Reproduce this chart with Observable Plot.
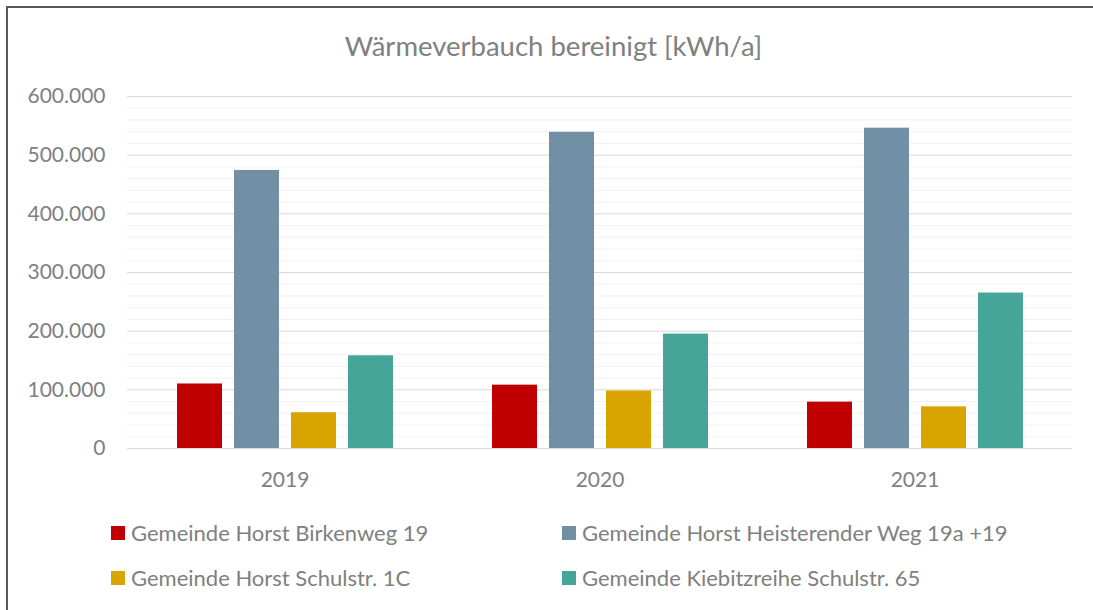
<!DOCTYPE html>
<html>
<head>
<meta charset="utf-8">
<script src="https://cdn.jsdelivr.net/npm/d3@7"></script>
<script src="https://cdn.jsdelivr.net/npm/@observablehq/plot@0.6"></script>
<style>
  html, body { margin: 0; padding: 0; background: #fff; }
  #wrap { position: relative; width: 1093px; height: 610px; overflow: hidden; background: #fff; font-family: Lato, "Open Sans", sans-serif; color: #808080; }
  #frame { position: absolute; left: 6px; top: 6px; width: 1200px; height: 700px; border-top: 2px solid #595959; border-left: 2px solid #595959; }
  #title { position: absolute; left: 7px; top: 30px; width: 1093px; text-align: center; font-size: 27.5px; line-height: 32px; color: #808080; }
  #chart { position: absolute; left: 0; top: 80px; }
  #legend { position: absolute; left: 111px; top: 510px; display: grid; grid-template-columns: 451px auto; grid-auto-rows: 45px; }
  .item { display: flex; align-items: center; font-size: 22px; line-height: 45px; white-space: nowrap; }
  .sw { width: 14px; height: 14px; margin-right: 6px; flex: none; }
</style>
</head>
<body>
<div id="wrap">
  <div id="frame"></div>
  <div id="title">Wärmeverbauch bereinigt [kWh/a]</div>
  <div id="chart"></div>
  <div id="legend"></div>
</div>
<script>
const years = ["2019", "2020", "2021"];
const series = [
  "Gemeinde Horst Birkenweg 19",
  "Gemeinde Horst Heisterender Weg 19a +19",
  "Gemeinde Horst Schulstr. 1C",
  "Gemeinde Kiebitzreihe Schulstr. 65"
];
const colors = ["#C00000", "#7190A6", "#D9A300", "#44A598"];
const birkenweg = [110000, 108000, 79000];
const heisterender = [474000, 539000, 546000];
const schulstr1C = [61000, 98000, 71000];
const kiebitzreihe = [158000, 195000, 265000];
const yTicks = [0, 100000, 200000, 300000, 400000, 500000, 600000];
const yMinorTicks = [20000, 40000, 60000, 80000, 120000, 140000, 160000, 180000, 220000, 240000, 260000, 280000, 320000, 340000, 360000, 380000, 420000, 440000, 460000, 480000, 520000, 540000, 560000, 580000];

const valuesBySeries = [birkenweg, heisterender, schulstr1C, kiebitzreihe];
const data = [];
years.forEach((yr, i) => {
  series.forEach((s, j) => data.push({year: yr, series: s, value: valuesBySeries[j][i]}));
});

const de = d3.formatLocale({decimal: ",", thousands: ".", grouping: [3], currency: ["", " €"]});
const fmt = de.format(",");

const chart = Plot.plot({
  width: 1093,
  height: 420,
  marginLeft: 126,
  marginRight: 20,
  marginTop: 16,
  marginBottom: 52,
  style: {fontFamily: "Lato, 'Open Sans', sans-serif", fontSize: "21px", color: "#808080", background: "transparent"},
  fx: {domain: years, padding: 0, label: null, axis: "bottom", tickSize: 0, tickPadding: 24},
  x: {domain: series, paddingInner: 0.215, paddingOuter: 0.865, axis: null},
  y: {domain: [0, 600000], ticks: yTicks, tickFormat: fmt, tickSize: 0, tickPadding: 22, label: null},
  color: {domain: series, range: colors},
  marks: [
    Plot.ruleY(yMinorTicks, {stroke: "#f2f2f2", strokeWidth: 1}),
    Plot.ruleY(yTicks, {stroke: "#d9d9d9", strokeWidth: 1}),
    Plot.barY(data, {fx: "year", x: "series", y: "value", fill: "series"})
  ]
});
document.getElementById("chart").appendChild(chart);

const legend = document.getElementById("legend");
series.forEach((s, j) => {
  const item = document.createElement("div");
  item.className = "item";
  const sw = document.createElement("span");
  sw.className = "sw";
  sw.style.background = colors[j];
  const t = document.createElement("span");
  t.textContent = s;
  item.appendChild(sw);
  item.appendChild(t);
  legend.appendChild(item);
});
</script>
</body>
</html>
